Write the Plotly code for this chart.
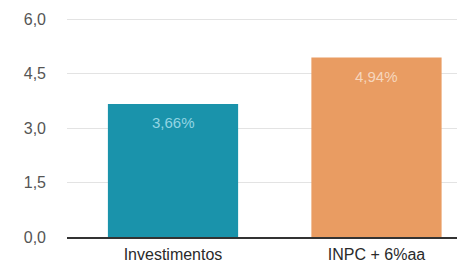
import plotly.graph_objects as go

categories = ["Investimentos", "INPC + 6%aa"]
values = [3.66, 4.94]
labels = ["3,66%", "4,94%"]
bar_colors = ["#1a93ab", "#e99c62"]
label_colors = ["#93d5e3", "#f6d6bd"]
tick_vals = [0, 1.5, 3.0, 4.5, 6.0]
tick_text = ["0,0", "1,5", "3,0", "4,5", "6,0"]

fig = go.Figure()
fig.add_trace(go.Bar(
    x=categories, y=values,
    marker=dict(color=bar_colors, line=dict(width=0)),
    width=0.64, cliponaxis=False,
))
for cat, val, lab, col in zip(categories, values, labels, label_colors):
    fig.add_annotation(x=cat, y=val, text=lab, showarrow=False,
                       yanchor="top", yshift=-8,
                       font=dict(color=col, size=15, family="Liberation Sans"))
fig.update_layout(
    width=457, height=258,
    margin=dict(l=59, r=0, t=9, b=29, autoexpand=False),
    paper_bgcolor="white", plot_bgcolor="white",
    showlegend=False,
    font=dict(family="Liberation Sans", color="#444"),
    xaxis=dict(range=[-0.521, 1.435], showgrid=False, showline=True,
               linecolor="#333", linewidth=2, ticks="",
               tickfont=dict(size=16, color="#2a2a2a"), ticklabelstandoff=2),
    yaxis=dict(range=[0, 6.055], tickvals=tick_vals, ticktext=tick_text,
               showgrid=True, gridcolor="#e3e3e3", gridwidth=1,
               zeroline=False, showline=False, ticks="",
               tickfont=dict(size=16, color="#555"), ticklabelstandoff=20),
)
fig.write_html("out.html")
